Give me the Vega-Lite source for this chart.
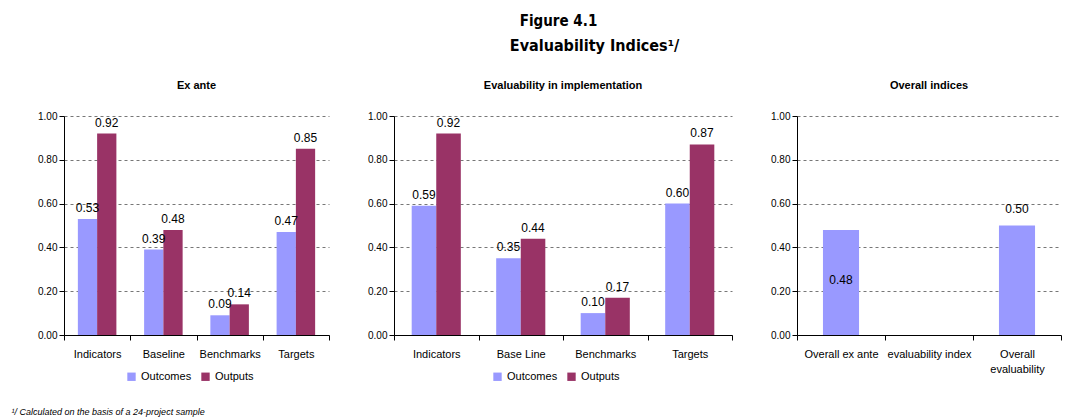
{
  "$schema": "https://vega.github.io/schema/vega-lite/v6.json",
  "background": "white",
  "padding": {"left": 11, "top": 14, "right": 5, "bottom": 2},
  "config": {
    "font": "Liberation Sans",
    "view": {"stroke": null},
    "axis": {"domainColor": "black", "tickColor": "black", "labelColor": "black", "labelFontSize": 10, "titleColor": "black"},
    "legend": {"direction": "horizontal", "title": null, "symbolType": "square", "symbolSize": 70, "symbolStrokeWidth": 0, "labelFontSize": 11, "labelColor": "black", "columnPadding": 8}
  },
  "title": {
    "text": "Figure 4.1",
    "font": "Liberation Sans Narrow, DejaVu Sans Condensed, Liberation Sans",
    "fontSize": 15,
    "fontWeight": "bold",
    "color": "black",
    "anchor": "middle",
    "dx": 22,
    "offset": 9
  },
  "datasets": {
    "exante": [
      {"indicator": "Indicators", "series": "Outcomes", "value": 0.53},
      {"indicator": "Indicators", "series": "Outputs", "value": 0.92},
      {"indicator": "Baseline", "series": "Outcomes", "value": 0.39},
      {"indicator": "Baseline", "series": "Outputs", "value": 0.48},
      {"indicator": "Benchmarks", "series": "Outcomes", "value": 0.09},
      {"indicator": "Benchmarks", "series": "Outputs", "value": 0.14},
      {"indicator": "Targets", "series": "Outcomes", "value": 0.47},
      {"indicator": "Targets", "series": "Outputs", "value": 0.85}
    ],
    "impl": [
      {"indicator": "Indicators", "series": "Outcomes", "value": 0.59},
      {"indicator": "Indicators", "series": "Outputs", "value": 0.92},
      {"indicator": "Base Line", "series": "Outcomes", "value": 0.35},
      {"indicator": "Base Line", "series": "Outputs", "value": 0.44},
      {"indicator": "Benchmarks", "series": "Outcomes", "value": 0.10},
      {"indicator": "Benchmarks", "series": "Outputs", "value": 0.17},
      {"indicator": "Targets", "series": "Outcomes", "value": 0.60},
      {"indicator": "Targets", "series": "Outputs", "value": 0.87}
    ],
    "overall": [
      {"index": "Overall ex ante", "value": 0.48},
      {"index": "Overall evaluability", "value": 0.50}
    ]
  },
  "vconcat": [
    {
      "title": {"text": "Evaluability Indices¹/", "font": "Liberation Sans Narrow, DejaVu Sans Condensed, Liberation Sans", "fontSize": 16, "fontWeight": "bold", "color": "black", "anchor": "middle", "dx": 58, "offset": 26},
      "vconcat": [
        {
          "title": {"text": "¹/  Calculated on the basis of a 24-project sample", "orient": "bottom", "anchor": "start", "fontSize": 9, "fontStyle": "italic", "fontWeight": "normal", "color": "black", "offset": 26, "dx": -26},
          "resolve": {"scale": {"color": "independent", "x": "independent", "y": "independent", "xOffset": "independent"}, "legend": {"color": "independent"}},
          "spacing": 37,
          "hconcat": [
            {
              "width": 265,
              "height": 219,
              "title": {"text": "Ex ante", "fontSize": 11, "fontWeight": "bold", "color": "black", "offset": 20},
              "data": {"name": "exante"},
              "encoding": {
                "x": {"field": "indicator", "type": "nominal", "sort": null, "scale": {"paddingInner": 0, "paddingOuter": 0},
                      "axis": {"title": null, "labelAngle": 0, "tickBand": "extent", "labelFontSize": 11, "labelPadding": 8, "tickSize": 5, "grid": false}},
                "xOffset": {"field": "series", "type": "nominal", "sort": ["Outcomes", "Outputs"], "scale": {"paddingInner": 0, "paddingOuter": 0.72}},
                "y": {"field": "value", "type": "quantitative", "scale": {"domain": [0, 1]},
                      "axis": {"title": null, "format": ".2f", "values": [0, 0.2, 0.4, 0.6, 0.8, 1.0], "tickSize": 5, "gridDash": [3, 3], "gridColor": "#777777"}},
                "color": {"field": "series", "type": "nominal", "scale": {"domain": ["Outcomes", "Outputs"], "range": ["#9999FF", "#993366"]},
                          "legend": {"orient": "none", "legendX": 62, "legendY": 255}}
              },
              "layer": [
                {"mark": {"type": "bar"}},
                {"mark": {"type": "text", "baseline": "bottom", "dy": -4, "fontSize": 12},
                 "encoding": {"text": {"field": "value", "type": "quantitative", "format": ".2f"}, "color": {"value": "black"}}}
              ]
            },
            {
              "width": 338,
              "height": 219,
              "title": {"text": "Evaluability in implementation", "fontSize": 11, "fontWeight": "bold", "color": "black", "offset": 20},
              "data": {"name": "impl"},
              "encoding": {
                "x": {"field": "indicator", "type": "nominal", "sort": null, "scale": {"paddingInner": 0, "paddingOuter": 0},
                      "axis": {"title": null, "labelAngle": 0, "tickBand": "extent", "labelFontSize": 11, "labelPadding": 8, "tickSize": 5, "grid": false}},
                "xOffset": {"field": "series", "type": "nominal", "sort": ["Outcomes", "Outputs"], "scale": {"paddingInner": 0, "paddingOuter": 0.72}},
                "y": {"field": "value", "type": "quantitative", "scale": {"domain": [0, 1]},
                      "axis": {"title": null, "format": ".2f", "values": [0, 0.2, 0.4, 0.6, 0.8, 1.0], "tickSize": 5, "gridDash": [3, 3], "gridColor": "#777777"}},
                "color": {"field": "series", "type": "nominal", "scale": {"domain": ["Outcomes", "Outputs"], "range": ["#9999FF", "#993366"]},
                          "legend": {"orient": "none", "legendX": 98, "legendY": 255}}
              },
              "layer": [
                {"mark": {"type": "bar"}},
                {"mark": {"type": "text", "baseline": "bottom", "dy": -4, "fontSize": 12},
                 "encoding": {"text": {"field": "value", "type": "quantitative", "format": ".2f"}, "color": {"value": "black"}}}
              ]
            },
            {
              "width": 264,
              "height": 219,
              "title": {"text": "Overall indices", "fontSize": 11, "fontWeight": "bold", "color": "black", "offset": 20},
              "data": {"name": "overall"},
              "encoding": {
                "x": {"field": "index", "type": "nominal", "scale": {"domain": ["Overall ex ante", "evaluability index", "Overall evaluability"], "paddingInner": 0, "paddingOuter": 0},
                      "axis": {"title": null, "labelAngle": 0, "tickBand": "extent", "labelFontSize": 11, "labelPadding": 8, "tickSize": 5, "grid": false,
                               "labelExpr": "datum.value == 'Overall evaluability' ? ['Overall', 'evaluability'] : datum.value", "labelLineHeight": 15}},
                "y": {"field": "value", "type": "quantitative", "scale": {"domain": [0, 1]},
                      "axis": {"title": null, "format": ".2f", "values": [0, 0.2, 0.4, 0.6, 0.8, 1.0], "tickSize": 5, "gridDash": [3, 3], "gridColor": "#777777"}}
              },
              "layer": [
                {"mark": {"type": "bar", "color": "#9999FF", "width": {"band": 0.41}}},
                {"transform": [{"filter": "datum.index == 'Overall ex ante'"}],
                 "mark": {"type": "text", "baseline": "middle", "dy": 50, "fontSize": 12},
                 "encoding": {"text": {"field": "value", "type": "quantitative", "format": ".2f"}, "color": {"value": "black"}}},
                {"transform": [{"filter": "datum.index == 'Overall evaluability'"}],
                 "mark": {"type": "text", "baseline": "bottom", "dy": -10, "fontSize": 12},
                 "encoding": {"text": {"field": "value", "type": "quantitative", "format": ".2f"}, "color": {"value": "black"}}}
              ]
            }
          ]
        }
      ]
    }
  ]
}
